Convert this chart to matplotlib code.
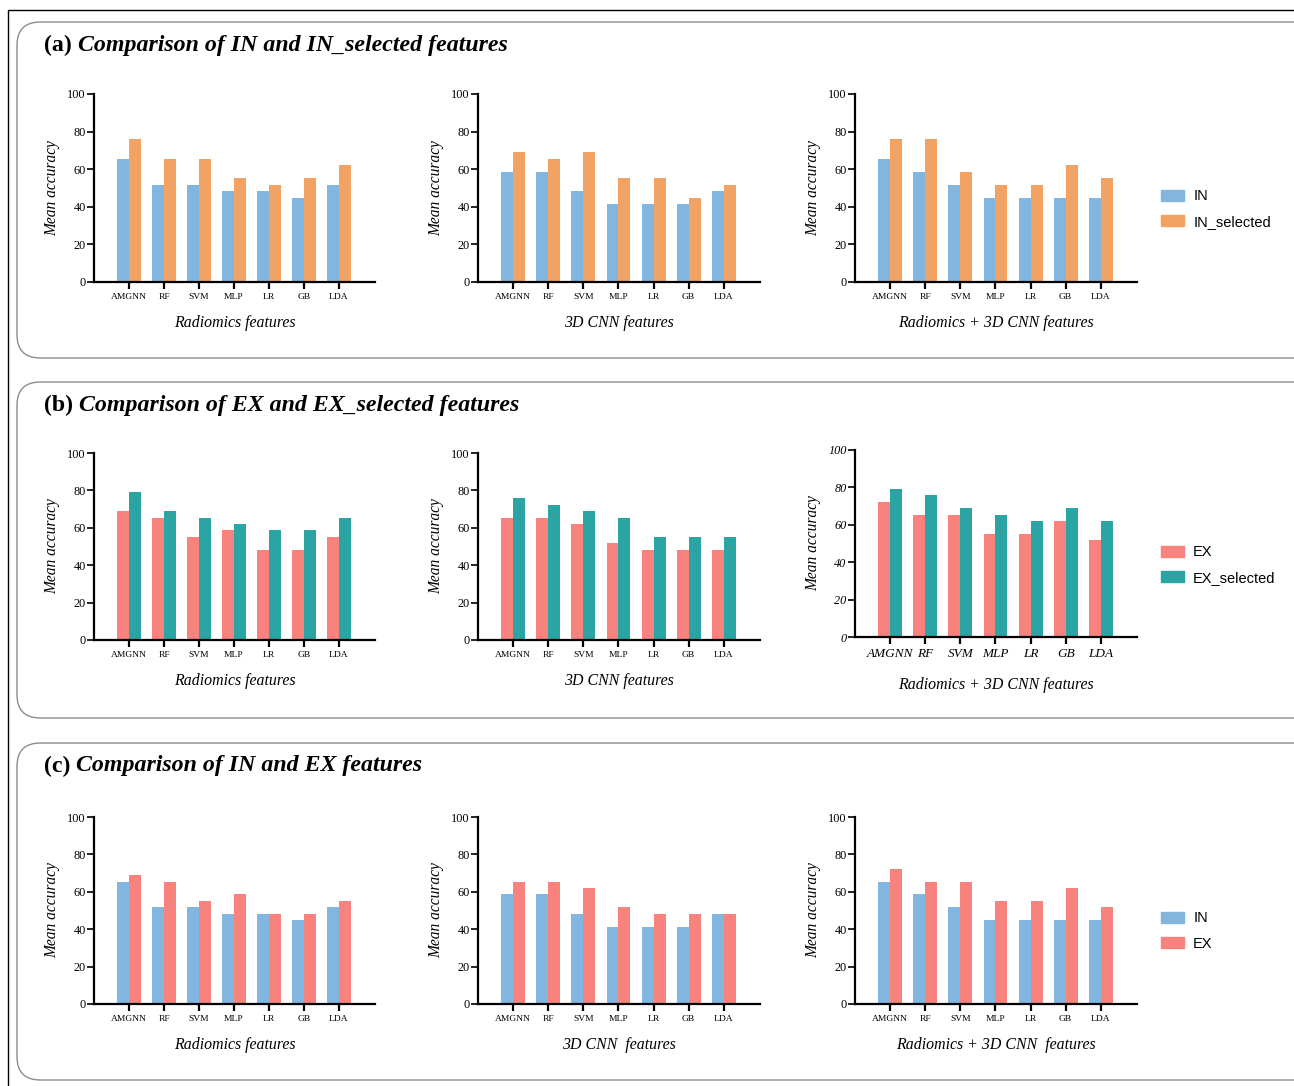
import numpy as np
import matplotlib.pyplot as plt
from matplotlib.patches import FancyBboxPatch, Rectangle, Patch

plt.rcParams['font.family'] = 'Liberation Serif'

models = ['AMGNN', 'RF', 'SVM', 'MLP', 'LR', 'GB', 'LDA']
feature_sets = ['Radiomics features', '3D CNN features', 'Radiomics + 3D CNN features']

# mean accuracy (%) per model, one list per feature set
IN_vals = [
    [65.5, 51.7, 51.7, 48.3, 48.3, 44.8, 51.7],
    [58.6, 58.6, 48.3, 41.4, 41.4, 41.4, 48.3],
    [65.5, 58.6, 51.7, 44.8, 44.8, 44.8, 44.8],
]
IN_sel_vals = [
    [75.9, 65.5, 65.5, 55.2, 51.7, 55.2, 62.1],
    [69.0, 65.5, 69.0, 55.2, 55.2, 44.8, 51.7],
    [75.9, 75.9, 58.6, 51.7, 51.7, 62.1, 55.2],
]
EX_vals = [
    [69.0, 65.5, 55.2, 58.6, 48.3, 48.3, 55.2],
    [65.5, 65.5, 62.1, 51.7, 48.3, 48.3, 48.3],
    [72.4, 65.5, 65.5, 55.2, 55.2, 62.1, 51.7],
]
EX_sel_vals = [
    [79.3, 69.0, 65.5, 62.1, 58.6, 58.6, 65.5],
    [75.9, 72.4, 69.0, 65.5, 55.2, 55.2, 55.2],
    [79.3, 75.9, 69.0, 65.5, 62.1, 69.0, 62.1],
]

c_in = '#82b6df'
c_in_sel = '#f2a263'
c_ex = '#f8827d'
c_ex_sel = '#2ba5a3'

W, H = 1294, 1086
fig = plt.figure(figsize=(W / 100, H / 100), dpi=100)

def px_box(x0, y0, x1, y1):
    return [x0 / W, 1 - y1 / H, (x1 - x0) / W, (y1 - y0) / H]

# outer frame and rounded panel boxes
fig.patches.append(Rectangle((8 / W, 1 - 1100 / H), 1300 / W, 1090 / H, transform=fig.transFigure,
                             fill=False, edgecolor='black', linewidth=1.0))
for (y0, y1) in [(22, 358), (382, 718), (743, 1080)]:
    fig.patches.append(FancyBboxPatch((17 / W, 1 - y1 / H), 1300 / W, (y1 - y0) / H,
                                      boxstyle='round,pad=0,rounding_size=0.018',
                                      transform=fig.transFigure, fill=False,
                                      edgecolor='#8c8c8c', linewidth=1.0,
                                      mutation_aspect=W / H))

titles = [('(a)', 'Comparison of IN and IN_selected features', 45),
          ('(b)', 'Comparison of EX and EX_selected features', 405),
          ('(c)', 'Comparison of IN and EX features', 766)]
for tag, txt, y in titles:
    t1 = fig.text(44 / W, 1 - y / H, tag, fontsize=17.2, fontweight='bold', va='center', ha='left')
    fig.canvas.draw()
    bb = t1.get_window_extent()
    fig.text((bb.x1 + 6) / W, 1 - y / H, txt, fontsize=17.2, fontweight='bold', style='italic',
             va='center', ha='left')

col_x = [(94, 375), (478, 760), (855, 1137)]
rows = [
    dict(series=(IN_vals, IN_sel_vals), colors=(c_in, c_in_sel), names=('IN', 'IN_selected'),
         y=[(94, 282)] * 3, legend_y=209),
    dict(series=(EX_vals, EX_sel_vals), colors=(c_ex, c_ex_sel), names=('EX', 'EX_selected'),
         y=[(453, 640), (453, 640), (450, 637)], legend_y=565),
    dict(series=(IN_vals, EX_vals), colors=(c_in, c_ex), names=('IN', 'EX'),
         y=[(817, 1004)] * 3, legend_y=931),
]

x = np.arange(len(models))
bw = 0.34
for r, row in enumerate(rows):
    a_vals, b_vals = row['series']
    for c in range(3):
        x0, x1 = col_x[c]
        y0, y1 = row['y'][c]
        ax = fig.add_axes(px_box(x0, y0, x1, y1))
        ax.bar(x - bw / 2, a_vals[c], bw, color=row['colors'][0])
        ax.bar(x + bw / 2, b_vals[c], bw, color=row['colors'][1])
        ax.set_xlim(-1, 7.03)
        ax.set_ylim(0, 100)
        ax.set_yticks([0, 20, 40, 60, 80, 100])
        ax.set_xticks(x)
        italic_row = (r == 1 and c == 2)
        ax.set_xticklabels(models, fontsize=9.5 if italic_row else 6.8,
                           style='italic' if italic_row else 'normal')
        for lab in ax.get_yticklabels():
            lab.set_fontsize(8.8)
            if italic_row:
                lab.set_style('italic')
        ax.spines['top'].set_visible(False)
        ax.spines['right'].set_visible(False)
        ax.spines['left'].set_linewidth(1.6)
        ax.spines['bottom'].set_linewidth(1.6)
        ax.tick_params(axis='y', length=5, width=1.2, pad=1)
        ax.tick_params(axis='x', length=5, width=1.6, pad=3)
        ax.set_ylabel('Mean accuracy', fontsize=11.2, style='italic', labelpad=5)
        xl = feature_sets[c]
        if r == 2 and c > 0:
            xl = xl.replace('CNN features', 'CNN  features')
        ax.set_xlabel(xl, fontsize=11.4, style='italic', labelpad=10 if not italic_row else 12)
        if c == 2:
            handles = [Patch(color=row['colors'][0]), Patch(color=row['colors'][1])]
            fig.legend(handles, row['names'], loc='center left',
                       bbox_to_anchor=(1148 / W, 1 - row['legend_y'] / H),
                       frameon=False, prop={'family': 'Liberation Sans', 'size': 10.5},
                       handlelength=1.6, handleheight=0.8, labelspacing=0.8, handletextpad=0.6)

fig.savefig('out.png', dpi=100)
